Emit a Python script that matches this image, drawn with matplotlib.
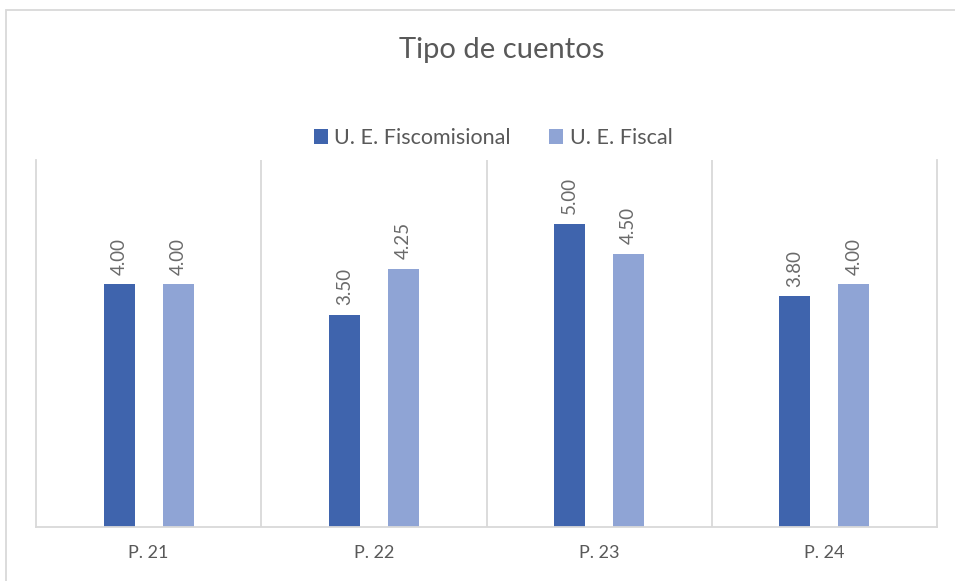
import numpy as np
import matplotlib.pyplot as plt
from matplotlib.patches import Rectangle

categories = ["P. 21", "P. 22", "P. 23", "P. 24"]
fiscomisional = [4.00, 3.50, 5.00, 3.80]
fiscal = [4.00, 4.25, 4.50, 4.00]
series_names = ["U. E. Fiscomisional", "U. E. Fiscal"]

dark = "#3F64AD"
light = "#8FA4D5"
grey_txt = "#595959"
grid_col = "#D9D9D9"

plt.rcParams['font.family'] = ['Lato', 'DejaVu Sans']

fig = plt.figure(figsize=(9.55, 5.81), dpi=100)
ax = fig.add_axes([36/955, 1-527/581, (937-36)/955, (527-160)/581])

x = np.arange(len(categories))
w = 0.138
off = 0.131
b1 = ax.bar(x - off, fiscomisional, w, color=dark, label=series_names[0])
b2 = ax.bar(x + off, fiscal, w, color=light, label=series_names[1])

for bars in (b1, b2):
    for r in bars:
        ax.annotate("%.2f" % r.get_height(), (r.get_x() + r.get_width()/2, r.get_height()),
                    xytext=(0, 7), textcoords="offset points", rotation=90,
                    ha="center", va="bottom", fontsize=13.5, color="#6A6A6A")

ax.set_xlim(-0.5, 3.5)
ax.set_ylim(0, 6.05)
ax.set_yticks([])
ax.set_xticks(x)
ax.set_xticklabels(categories, fontsize=13, color=grey_txt)
ax.set_xticks(x[:-1] + 0.5, minor=True)
ax.tick_params(axis="x", which="both", length=0, pad=13)
ax.grid(True, axis="x", which="minor", color=grid_col, lw=1.3)
for s in ("left", "right", "bottom"):
    ax.spines[s].set_color(grid_col)
    ax.spines[s].set_linewidth(1.3)
ax.spines["top"].set_visible(False)

fig.text(502/955, 1-50/581, "Tipo de cuentos", ha="center", va="center",
         fontsize=21, color=grey_txt)

fig.legend(loc="center", bbox_to_anchor=(493/955, 1-138/581), ncol=2, frameon=False,
           fontsize=15.5, labelcolor=grey_txt, handlelength=0.65, handleheight=0.65,
           handletextpad=0.3, columnspacing=1.8)

# outer chart border (partly cropped)
fig.patches.append(Rectangle((6/955, -0.1), 1.2, 1-10/581 + 0.1, transform=fig.transFigure,
                             fill=False, edgecolor=grid_col, lw=1.3))

fig.savefig("out.png", dpi=100)
